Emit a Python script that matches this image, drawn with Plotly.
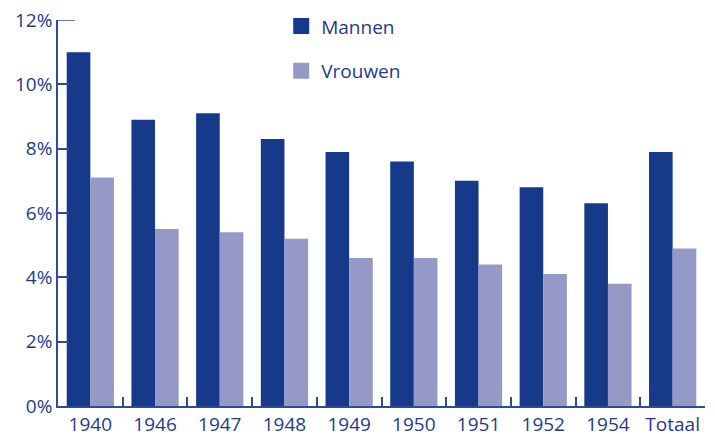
import plotly.graph_objects as go

categories = ["1940", "1946", "1947", "1948", "1949", "1950", "1951", "1952", "1954", "Totaal"]
mannen = [11.0, 8.9, 9.1, 8.3, 7.9, 7.6, 7.0, 6.8, 6.3, 7.9]
vrouwen = [7.1, 5.5, 5.4, 5.2, 4.6, 4.6, 4.4, 4.1, 3.8, 4.9]
y_ticks = [0, 2, 4, 6, 8, 10, 12]
y_tick_labels = ["0%", "2%", "4%", "6%", "8%", "10%", "12%"]

series_names = ["Mannen", "Vrouwen"]
series_colors = ["#17398A", "#9499C6"]

text_color = "#1F3A8A"
axis_color = "#2E4A98"
font_family = "Open Sans, Lato, sans-serif"

fig = go.Figure()
for name, vals, col in zip(series_names, [mannen, vrouwen], series_colors):
    fig.add_trace(go.Bar(x=categories, y=vals, name=name, marker_color=col,
                         marker_line_width=0, showlegend=False, hoverinfo="skip"))
# legend proxies (bigger square swatches)
for i, (name, col) in enumerate(zip(series_names, series_colors)):
    fig.add_trace(go.Scatter(x=[None], y=[None], mode="markers", name=name,
                             legendgroup=name,
                             marker=dict(symbol="square", size=16, color=col)))

fig.add_shape(type="line", xref="paper", yref="y", x0=0, x1=17 / 647, y0=12, y1=12,
              line=dict(color=axis_color, width=1.5))

fig.update_layout(
    width=715, height=434,
    margin=dict(l=58, r=10, t=20, b=28, autoexpand=False),
    paper_bgcolor="white", plot_bgcolor="white",
    barmode="group", bargap=0.27, bargroupgap=0,
    font=dict(family=font_family, size=19, color=text_color),
    showlegend=True,
    legend=dict(x=0.345, y=1.033, xanchor="left", yanchor="top",
                traceorder="grouped", tracegroupgap=17, itemwidth=30,
                font=dict(size=19, color=text_color), bgcolor="rgba(0,0,0,0)"),
    xaxis=dict(showline=True, linecolor=axis_color, linewidth=1.5, automargin=False,
               ticks="inside", tickson="boundaries", ticklen=9, tickcolor=axis_color,
               tickwidth=1.5, showgrid=False, tickfont=dict(size=19, color=text_color)),
    yaxis=dict(range=[0, 12], tickvals=y_ticks, ticktext=y_tick_labels, automargin=False,
               showline=True, linecolor=axis_color, linewidth=1.5,
               ticks="inside", ticklen=11, tickcolor=axis_color, tickwidth=1.5,
               showgrid=False, zeroline=False, tickfont=dict(size=19, color=text_color)),
)

fig.write_html("out.html", config={"displayModeBar": False},
               post_script="document.body.style.margin='0';")
